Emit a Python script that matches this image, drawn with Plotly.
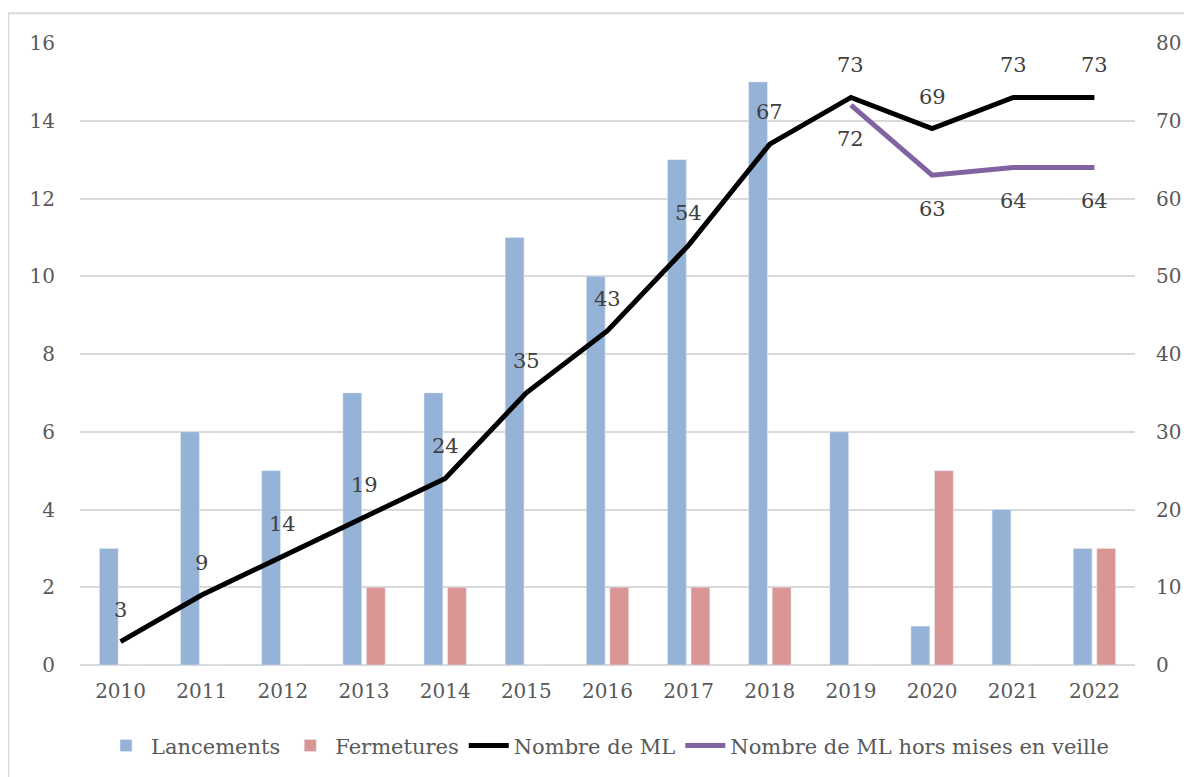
import plotly.graph_objects as go

years = ["2010", "2011", "2012", "2013", "2014", "2015", "2016", "2017", "2018", "2019", "2020", "2021", "2022"]
lancements = [3, 6, 5, 7, 7, 11, 10, 13, 15, 6, 1, 4, 3]
fermetures = [0, 0, 0, 2, 2, 0, 2, 2, 2, 0, 5, 0, 3]
nombre_ml = [3, 9, 14, 19, 24, 35, 43, 54, 67, 73, 69, 73, 73]
veille_years = ["2019", "2020", "2021", "2022"]
nombre_ml_hors_veille = [72, 63, 64, 64]

FONT = "DejaVu Serif"
TXT = "#595959"
GRID = "#D9D9D9"

fig = go.Figure()
fig.add_trace(go.Bar(x=years, y=lancements, name="Lancements", marker_color="#95B3D7"))
fig.add_trace(go.Bar(x=years, y=fermetures, name="Fermetures", marker_color="#D99694"))
fig.add_trace(go.Scatter(x=years, y=nombre_ml, name="Nombre de ML", yaxis="y2", mode="lines",
                         line=dict(color="#000000", width=5)))
fig.add_trace(go.Scatter(x=veille_years, y=nombre_ml_hors_veille, name="Nombre de ML hors mises en veille",
                         yaxis="y2", mode="lines", line=dict(color="#8064A2", width=5)))

annotations = []
for x, v in zip(years, nombre_ml):
    annotations.append(dict(x=years.index(x), y=v, xref="x", yref="y2", text=str(v), showarrow=False,
                            yshift=32, font=dict(family=FONT, size=21, color="#404040")))
for x, v in zip(veille_years, nombre_ml_hors_veille):
    annotations.append(dict(x=years.index(x), y=v, xref="x", yref="y2", text=str(v), showarrow=False,
                            yshift=-34, font=dict(family=FONT, size=21, color="#404040")))

fig.update_layout(
    width=1192, height=777,
    margin=dict(l=72, r=65, t=35, b=120),
    paper_bgcolor="white", plot_bgcolor="white",
    barmode="group", bargap=0.42, bargroupgap=0.2,
    font=dict(family=FONT, size=20, color=TXT),
    xaxis=dict(type="category", range=[-0.5, len(years) - 0.5], showgrid=False, showline=False, ticks="",
               tickfont=dict(family=FONT, size=20, color=TXT), ticklabelstandoff=12),
    yaxis=dict(range=[0, 16], dtick=2, showgrid=True, gridcolor=GRID, gridwidth=1.5,
               zeroline=True, zerolinecolor=GRID, zerolinewidth=1.5, showline=False,
               tickfont=dict(family=FONT, size=20, color=TXT), ticklabelstandoff=24),
    yaxis2=dict(range=[0, 80], dtick=10, overlaying="y", side="right", showgrid=False,
                zeroline=False, showline=False,
                tickfont=dict(family=FONT, size=20, color=TXT), ticklabelstandoff=20),
    legend=dict(orientation="h", x=0.5, xanchor="center", y=-0.13, yanchor="middle",
                font=dict(family=FONT, size=21, color=TXT), itemwidth=40, tracegroupgap=0),
    annotations=annotations,
    shapes=[dict(type="rect", xref="paper", yref="paper", x0=-0.068, x1=1.2, y0=-0.4, y1=1.048,
                 line=dict(color=GRID, width=2), fillcolor="rgba(0,0,0,0)", layer="below")],
    showlegend=True,
)

fig.write_html("out.html")
